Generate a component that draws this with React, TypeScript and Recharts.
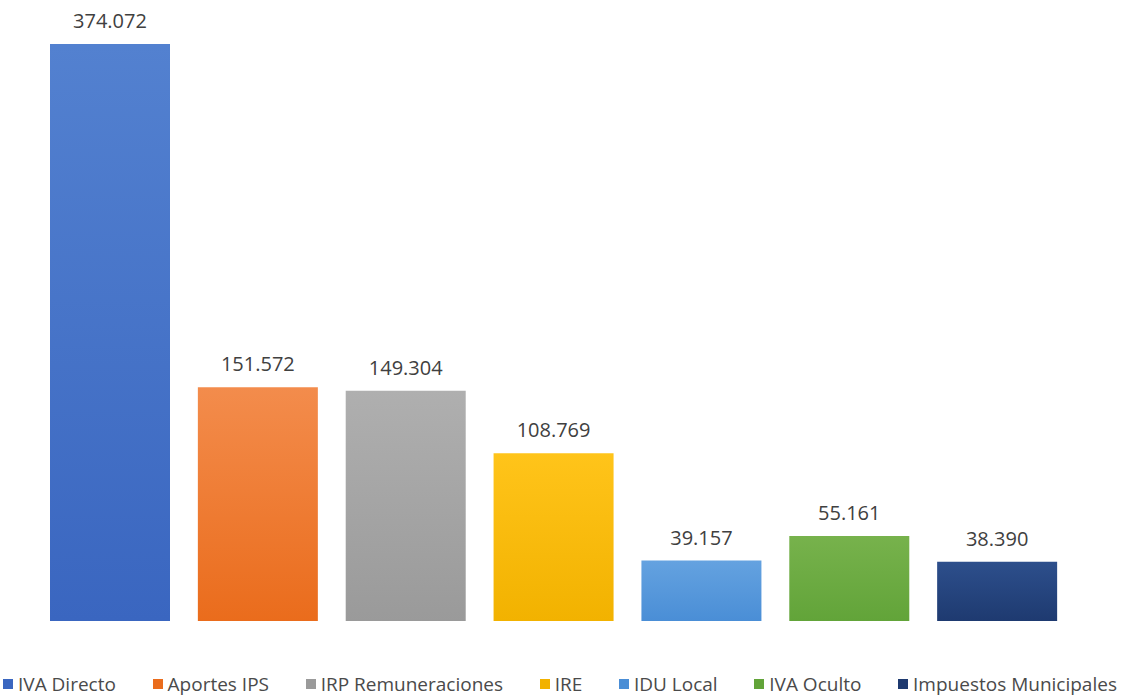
import { BarChart, Bar, XAxis, YAxis, Cell, LabelList, Legend } from 'recharts';

const categories = [
  'IVA Directo',
  'Aportes IPS',
  'IRP Remuneraciones',
  'IRE',
  'IDU Local',
  'IVA Oculto',
  'Impuestos Municipales',
];
const values = [374072, 151572, 149304, 108769, 39157, 55161, 38390];
const topColors = ['#5381d0', '#f38c4c', '#afafaf', '#ffc41a', '#64a2e0', '#77b24c', '#2d4f8c'];
const bottomColors = ['#3a66c0', '#ea6c1c', '#9a9a9a', '#f2b200', '#4a8ed6', '#62a439', '#1e3a70'];

const data = categories.map((name, i) => ({ name, value: values[i] }));

const FONT = '"Open Sans", "Noto Sans", sans-serif';

const formatValue = (v: number) => v.toLocaleString('de-DE');

const renderLegend = () => (
  <div
    style={{
      display: 'flex',
      justifyContent: 'space-between',
      alignItems: 'center',
      height: 78,
      paddingTop: 48,
      boxSizing: 'border-box',
      paddingLeft: 3,
      paddingRight: 6,
      fontFamily: FONT,
      fontSize: 19,
      color: '#4a4a4a',
    }}
  >
    {categories.map((c, i) => (
      <span key={c} style={{ display: 'flex', alignItems: 'center', whiteSpace: 'nowrap' }}>
        <span style={{ display: 'inline-block', width: 10, height: 10, background: bottomColors[i], marginRight: 5 }} />
        {c}
      </span>
    ))}
  </div>
);

const App = () => {
  return (
    <div style={{ position: 'absolute', left: 0, top: 0, background: '#fff' }}>
      <BarChart
        width={1123}
        height={699}
        data={data}
        margin={{ top: 44, right: 52, bottom: 0, left: 36 }}
      >
        <defs>
          {categories.map((c, i) => (
            <linearGradient key={c} id={`grad${i}`} x1="0" y1="0" x2="0" y2="1">
              <stop offset="0%" stopColor={topColors[i]} />
              <stop offset="100%" stopColor={bottomColors[i]} />
            </linearGradient>
          ))}
        </defs>
        <XAxis dataKey="name" hide />
        <YAxis hide domain={[0, 'dataMax']} />
        <Legend
          verticalAlign="bottom"
          height={78}
          wrapperStyle={{ left: 0, width: 1123 }}
          content={renderLegend}
        />
        <Bar dataKey="value" barSize={120} isAnimationActive={false}>
          {data.map((d, i) => (
            <Cell key={d.name} fill={`url(#grad${i})`} />
          ))}
          <LabelList
            dataKey="value"
            position="top"
            offset={16}
            formatter={(v: any) => formatValue(Number(v))}
            style={{ fontFamily: FONT, fontSize: 20, fill: '#404040' }}
          />
        </Bar>
      </BarChart>
    </div>
  );
};

export default App;
